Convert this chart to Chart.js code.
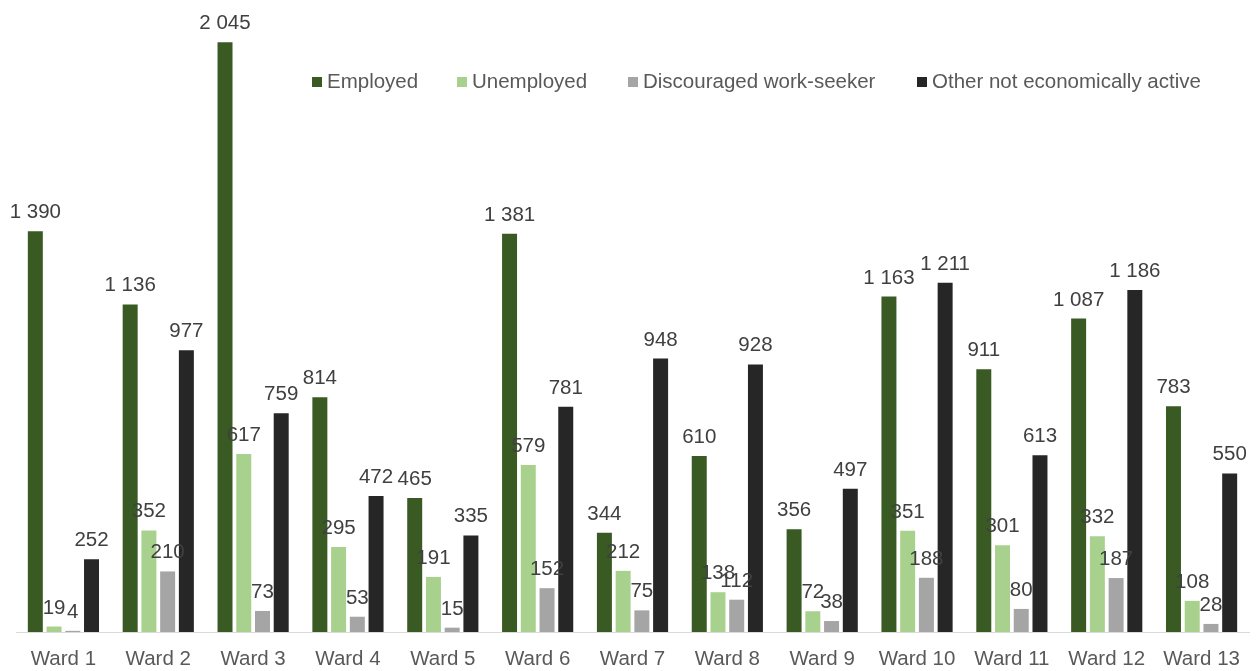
<!DOCTYPE html>
<html>
<head>
<meta charset="utf-8">
<script src="https://cdn.jsdelivr.net/npm/chart.js@4/dist/chart.umd.min.js"></script>
<style>
    html, body { margin: 0; padding: 0; background: #ffffff; }
    #wrap { width: 1256px; height: 671px; position: relative; }
</style>
</head>
<body>
<div id="wrap"><canvas id="ward-chart"></canvas></div>
<script>
// Labour status by ward
const wards = ['Ward 1', 'Ward 2', 'Ward 3', 'Ward 4', 'Ward 5', 'Ward 6', 'Ward 7',
    'Ward 8', 'Ward 9', 'Ward 10', 'Ward 11', 'Ward 12', 'Ward 13'];
const employed = [1390, 1136, 2045, 814, 465, 1381, 344, 610, 356, 1163, 911, 1087, 783];
const unemployed = [19, 352, 617, 295, 191, 579, 212, 138, 72, 351, 301, 332, 108];
const discouraged = [4, 210, 73, 53, 15, 152, 75, 112, 38, 188, 80, 187, 28];
const otherInactive = [252, 977, 759, 472, 335, 781, 948, 928, 497, 1211, 613, 1186, 550];

const seriesNames = ['Employed', 'Unemployed', 'Discouraged work-seeker', 'Other not economically active'];
const seriesColors = ['#3a5a24', '#a9d18e', '#a5a5a5', '#262626'];

const FONT = '"Liberation Sans", Arial, sans-serif';
const FONT_SIZE = 20.5;

// thousands with a space, like "1 390"
function fmt(v) {
    return String(v).replace(/\B(?=(\d{3})+(?!\d))/g, ' ');
}

// value labels above each bar
const valueLabels = {
    id: 'valueLabels',
    afterDatasetsDraw(chart) {
        const ctx = chart.ctx;
        ctx.save();
        ctx.font = FONT_SIZE + 'px ' + FONT;
        ctx.fillStyle = '#404040';
        ctx.textAlign = 'center';
        ctx.textBaseline = 'alphabetic';
        chart.data.datasets.forEach((ds, i) => {
            const meta = chart.getDatasetMeta(i);
            meta.data.forEach((bar, j) => {
                ctx.fillText(fmt(ds.data[j]), bar.x, bar.y - 13);
            });
        });
        ctx.restore();
    }
};

// legend row in the upper right of the plot
const insetLegend = {
    id: 'insetLegend',
    afterDraw(chart) {
        const ctx = chart.ctx;
        const xs = [312, 457, 628, 917];
        ctx.save();
        ctx.font = FONT_SIZE + 'px ' + FONT;
        ctx.textBaseline = 'alphabetic';
        ctx.textAlign = 'left';
        chart.data.datasets.forEach((ds, i) => {
            ctx.fillStyle = ds.backgroundColor;
            ctx.fillRect(xs[i], 77, 10, 10);
            ctx.fillStyle = '#595959';
            ctx.fillText(ds.label, xs[i] + 15, 88);
        });
        ctx.restore();
    }
};

const seriesData = [employed, unemployed, discouraged, otherInactive];

new Chart(document.getElementById('ward-chart'), {
    type: 'bar',
    data: {
        labels: wards,
        datasets: seriesData.map((d, i) => ({
            label: seriesNames[i],
            data: d,
            backgroundColor: seriesColors[i],
            borderWidth: 0,
            categoryPercentage: 0.79,
            barPercentage: 0.8
        }))
    },
    options: {
        responsive: true,
        maintainAspectRatio: false,
        animation: false,
        layout: {
            padding: { top: 12, left: 16, right: 7, bottom: 0 }
        },
        plugins: {
            legend: { display: false },
            tooltip: { enabled: false }
        },
        scales: {
            y: {
                display: false,
                min: 0,
                max: 2150
            },
            x: {
                grid: { display: false, drawTicks: false },
                border: { color: '#d9d9d9', width: 1 },
                ticks: {
                    color: '#595959',
                    font: { size: FONT_SIZE, family: FONT },
                    padding: 15,
                    maxRotation: 0,
                    autoSkip: false
                },
                // fix the axis band so the baseline sits where the original has it
                afterFit: function (scale) {
                    scale.height = 39;
                }
            }
        }
    },
    plugins: [valueLabels, insetLegend]
});
</script>
</body>
</html>
